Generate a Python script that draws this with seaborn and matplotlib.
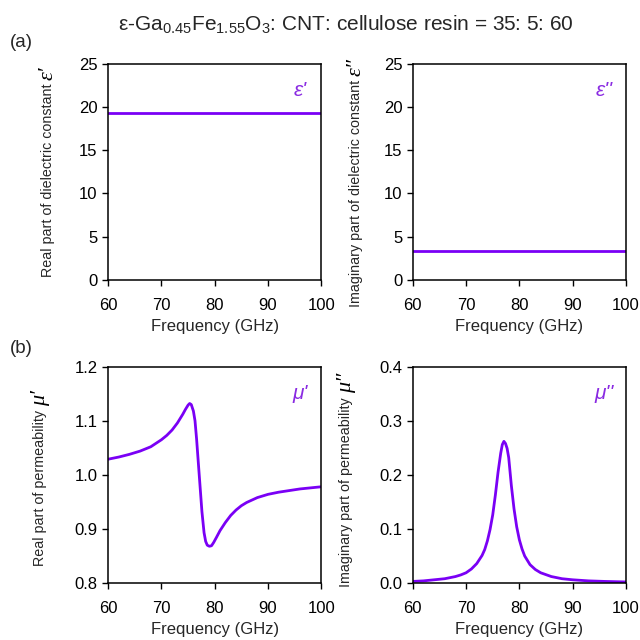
import matplotlib
matplotlib.use("Agg")
import matplotlib.pyplot as plt
import seaborn as sns
import pandas as pd

# ---- data ----
freq_eps = [60, 100]
eps_real = [19.35, 19.35]
eps_imag = [3.32, 3.32]

freq_mu_real = [60, 62, 64, 66, 68, 70, 71, 72, 73, 74, 74.5, 75, 75.3, 75.6, 76,
                76.3, 76.6, 77, 77.3, 77.6, 78, 78.3, 78.6, 79, 79.4, 79.8, 80.3,
                81, 82, 83, 84, 85, 86, 88, 90, 92, 94, 96, 98, 100]
mu_real = [1.029, 1.033, 1.038, 1.044, 1.052, 1.065, 1.073, 1.083, 1.096, 1.112,
           1.121, 1.129, 1.132, 1.130, 1.118, 1.100, 1.066, 1.012, 0.972, 0.932,
           0.893, 0.877, 0.870, 0.868, 0.869, 0.875, 0.884, 0.897, 0.912, 0.925,
           0.935, 0.943, 0.949, 0.958, 0.964, 0.968, 0.971, 0.974, 0.976, 0.978]

freq_mu_imag = [60, 62, 64, 66, 68, 69, 70, 71, 72, 73, 73.5, 74, 74.5, 75, 75.5,
                76, 76.5, 76.8, 77.1, 77.4, 77.7, 78, 78.5, 79, 79.5, 80, 80.5,
                81, 82, 83, 84, 86, 88, 90, 93, 96, 100]
mu_imag = [0.003, 0.004, 0.006, 0.008, 0.012, 0.015, 0.019, 0.026, 0.036, 0.051,
           0.062, 0.078, 0.099, 0.126, 0.163, 0.205, 0.240, 0.256, 0.262, 0.258,
           0.249, 0.232, 0.180, 0.137, 0.104, 0.080, 0.063, 0.050, 0.034, 0.025,
           0.019, 0.012, 0.008, 0.006, 0.004, 0.003, 0.002]

x_ticks = [60, 70, 80, 90, 100]

# ---- style ----
sns.set_theme(style="ticks")
plt.rcParams["font.family"] = ["Liberation Sans", "DejaVu Sans"]
plt.rcParams["mathtext.fontset"] = "custom"
plt.rcParams["mathtext.rm"] = "Liberation Sans"
plt.rcParams["mathtext.it"] = "Liberation Sans:italic"

LINE = "#7A00F5"
TEXT_C = "#8A2BE2"

fig = plt.figure(figsize=(6.4, 6.4), dpi=100)

panels = [
    # left, bottom, freq, values, ylim, yticks, fmt, ylabel, label symbol, corner symbol, label coords
    (0.169, 0.5625, freq_eps, eps_real, (0, 25), [0, 5, 10, 15, 20, 25],
     "%d", "Real part of dielectric constant", "\u03b5\u2032", "\u03b5'", (-0.25, 0.46)),
    (0.645, 0.5625, freq_eps, eps_imag, (0, 25), [0, 5, 10, 15, 20, 25],
     "%d", "Imaginary part of dielectric constant", "\u03b5\u2033", "\u03b5''", (-0.235, 0.40)),
    (0.169, 0.089, freq_mu_real, mu_real, (0.8, 1.2), [0.8, 0.9, 1.0, 1.1, 1.2],
     "%.1f", "Real part of permeability", "\u03bc\u2032", "\u03bc'", (-0.285, 0.44)),
    (0.645, 0.089, freq_mu_imag, mu_imag, (0.0, 0.4), [0.0, 0.1, 0.2, 0.3, 0.4],
     "%.1f", "Imaginary part of permeability", "\u03bc\u2033", "\u03bc''", (-0.28, 0.42)),
]

for (left, bottom, fx, vals, ylim, yticks, fmt, ylab, lab_sym, corner_sym, lab_xy) in panels:
    ax = fig.add_axes([left, bottom, 0.333, 0.338])
    df = pd.DataFrame({"f": fx, "v": vals})
    sns.lineplot(data=df, x="f", y="v", ax=ax, color=LINE, lw=2.0)
    ax.set_xlim(60, 100)
    ax.set_ylim(*ylim)
    ax.set_xticks(x_ticks)
    ax.set_yticks(yticks)
    ax.set_yticklabels([fmt % t for t in yticks])
    ax.tick_params(axis="both", direction="out", length=4.5, width=1.0,
                   labelsize=12, colors="black")
    ax.tick_params(axis="x", pad=8.5)
    ax.tick_params(axis="y", pad=3)
    for sp in ax.spines.values():
        sp.set_visible(True)
        sp.set_linewidth(1.1)
        sp.set_color("black")
    ax.set_xlabel("Frequency (GHz)", fontsize=12, labelpad=4)
    ax.set_ylabel(ylab, fontsize=10.3)
    ax.yaxis.set_label_coords(*lab_xy)
    ax.annotate(lab_sym, xy=(0.5, 1.0), xycoords=ax.yaxis.label,
                xytext=(0, 3), textcoords="offset points",
                rotation=90, ha="center", va="bottom",
                fontsize=16, fontstyle="italic", color="black",
                family=["Liberation Serif", "DejaVu Serif"])
    ax.text(0.90, 0.875, corner_sym, transform=ax.transAxes, ha="center",
            va="center", fontsize=15, fontstyle="italic", color=TEXT_C)

fig.text(0.541, 0.961,
         r"ε-Ga$_{0.45}$Fe$_{1.55}$O$_{3}$: CNT: cellulose resin = 35: 5: 60",
         ha="center", va="center", fontsize=15)
fig.text(0.016, 0.934, "(a)", ha="left", va="center", fontsize=13.5)
fig.text(0.016, 0.456, "(b)", ha="left", va="center", fontsize=13.5)

fig.savefig("out.png", dpi=100)
